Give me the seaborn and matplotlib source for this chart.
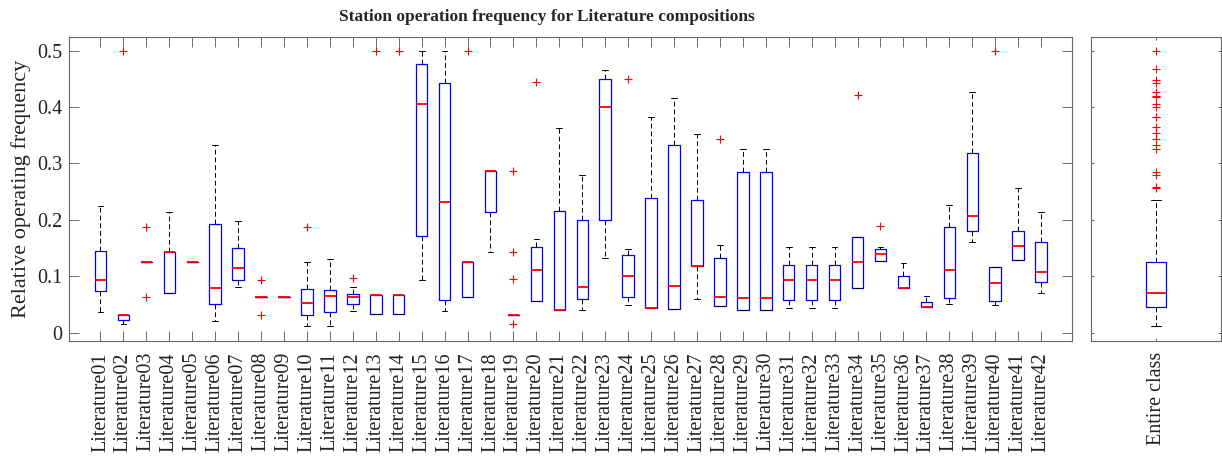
import numpy as np
import pandas as pd
import matplotlib
matplotlib.use('Agg')
import matplotlib.pyplot as plt
import seaborn as sns

sns.set_style('ticks')
plt.rcParams['font.family'] = ['Liberation Serif', 'DejaVu Serif']

# 数据：每个类别的五数概括（下须、Q1、中位数、Q3、上须）
names = ['Literature%02d' % i for i in range(1, 43)]
w_lo = [0.037, 0.015, 0.125, 0.071, 0.125, 0.021, 0.081, 0.0625, 0.0625, 0.011,
        0.011, 0.038, 0.0333, 0.0333, 0.094, 0.039, 0.0625, 0.143, 0.031, 0.0555,
        0.040, 0.0395, 0.133, 0.0496, 0.043, 0.0419, 0.059, 0.0466, 0.0401, 0.0401,
        0.0437, 0.0437, 0.0437, 0.079, 0.1268, 0.0785, 0.0454, 0.0507, 0.160, 0.0496,
        0.1286, 0.0708]
q1 = [0.074, 0.022, 0.125, 0.071, 0.125, 0.051, 0.094, 0.0625, 0.0625, 0.031,
      0.037, 0.050, 0.0333, 0.0333, 0.171, 0.058, 0.0625, 0.214, 0.031, 0.0555,
      0.040, 0.0596, 0.1994, 0.0625, 0.043, 0.0419, 0.1174, 0.0466, 0.0401, 0.0401,
      0.0584, 0.0584, 0.0584, 0.079, 0.1268, 0.0785, 0.0454, 0.0619, 0.1794, 0.0566,
      0.1286, 0.089]
med = [0.094, 0.0305, 0.125, 0.143, 0.125, 0.079, 0.115, 0.0625, 0.0625, 0.052,
       0.065, 0.0625, 0.0667, 0.0667, 0.406, 0.231, 0.125, 0.2857, 0.031, 0.1115,
       0.040, 0.080, 0.3994, 0.0997, 0.043, 0.0832, 0.1174, 0.0625, 0.0613, 0.0613,
       0.0938, 0.0938, 0.0938, 0.125, 0.1386, 0.0785, 0.0454, 0.1103, 0.2065, 0.088,
       0.1534, 0.1068]
q3 = [0.145, 0.031, 0.125, 0.143, 0.125, 0.192, 0.150, 0.0625, 0.0625, 0.078,
      0.0755, 0.068, 0.0667, 0.0667, 0.476, 0.442, 0.125, 0.2857, 0.031, 0.1516,
      0.2154, 0.1994, 0.449, 0.1369, 0.2383, 0.332, 0.2348, 0.1316, 0.285, 0.285,
      0.1197, 0.1197, 0.1197, 0.170, 0.1475, 0.0997, 0.0537, 0.188, 0.319, 0.1162,
      0.1794, 0.1605]
w_hi = [0.224, 0.031, 0.125, 0.214, 0.125, 0.333, 0.198, 0.0625, 0.0625, 0.125,
        0.130, 0.081, 0.0667, 0.0667, 0.500, 0.500, 0.125, 0.2857, 0.031, 0.166,
        0.3634, 0.279, 0.4655, 0.149, 0.3823, 0.416, 0.352, 0.1558, 0.326, 0.326,
        0.1516, 0.1516, 0.1516, 0.170, 0.151, 0.1239, 0.065, 0.226, 0.4265, 0.1162,
        0.2555, 0.2136]

out_names = ['Literature02', 'Literature03', 'Literature03', 'Literature08', 'Literature08',
             'Literature10', 'Literature12', 'Literature13', 'Literature14', 'Literature17',
             'Literature19', 'Literature19', 'Literature19', 'Literature19', 'Literature20',
             'Literature24', 'Literature28', 'Literature34', 'Literature35', 'Literature40']
out_vals = [0.5, 0.187, 0.0625, 0.094, 0.031,
            0.187, 0.097, 0.5, 0.5, 0.5,
            0.2857, 0.143, 0.0955, 0.0155, 0.444,
            0.449, 0.3428, 0.4206, 0.1894, 0.5]

all_box = [0.0112, 0.046, 0.0708, 0.125, 0.2348]
all_out = [0.5, 0.4667, 0.4484, 0.443, 0.426, 0.4195, 0.417, 0.4047, 0.3994, 0.3829,
           0.3815, 0.3646, 0.354, 0.3434, 0.332, 0.3257, 0.2855, 0.279, 0.2578, 0.2555]

df = pd.DataFrame({'cat': np.repeat(names, 5),
                   'val': np.column_stack([w_lo, q1, med, q3, w_hi]).ravel()})
df_all = pd.DataFrame({'cat': ['Entire class'] * 5, 'val': all_box})

fig = plt.figure(figsize=(12.22, 4.57), dpi=100)
ax = fig.add_axes([0.0565, 0.2538, 0.8208, 0.6652])
ax2 = fig.add_axes([0.8928, 0.2538, 0.1064, 0.6652], sharey=ax)

box_kw = dict(whis=(0, 100), fill=False, color='blue', linewidth=0.9, showfliers=False,
              medianprops=dict(color='red', linewidth=1.3, zorder=5),
              whiskerprops=dict(color='black', linewidth=0.7, linestyle=(0, (5, 3))),
              capprops=dict(color='black', linewidth=0.7))

sns.boxplot(data=df, x='cat', y='val', order=names, width=0.5, ax=ax, **box_kw)
ax.plot([names.index(n) for n in out_names], out_vals, '+', color='red',
        ms=6, mew=0.8, linestyle='none', zorder=6)

sns.boxplot(data=df_all, x='cat', y='val', width=0.154, ax=ax2, **box_kw)
ax2.plot([0] * len(all_out), all_out, '+', color='red', ms=6, mew=0.8,
         linestyle='none', zorder=6)

ax.set_xlim(-1.37, 42.35)
ax2.set_xlim(-0.5, 0.5)
ax.set_ylim(-0.015, 0.524)
ax.set_yticks([0, 0.1, 0.2, 0.3, 0.4, 0.5])
ax.set_yticklabels(['0', '0.1', '0.2', '0.3', '0.4', '0.5'])
ax.set_xlabel('')
ax2.set_xlabel('')
ax2.set_ylabel('')
ax.set_ylabel('Relative operating frequency', fontsize=16)
ax.yaxis.set_label_coords(-0.038, 0.5)

for a, tl in [(ax, 7), (ax2, 2.2)]:
    a.tick_params(direction='in', length=tl, width=0.6, top=True, right=True,
                  labelsize=14.5, color='#555555', labelcolor='#222222', pad=5)
    a.tick_params(axis='x', rotation=90, pad=8)
    for s in a.spines.values():
        s.set_visible(True)
        s.set_color('#666666')
        s.set_linewidth(0.8)
ax2.tick_params(labelleft=False)

fig.text(0.4476, 0.963, 'Station operation frequency for Literature compositions',
         ha='center', va='center', fontsize=12.5, fontweight='bold')

fig.savefig('out.png', dpi=100)
